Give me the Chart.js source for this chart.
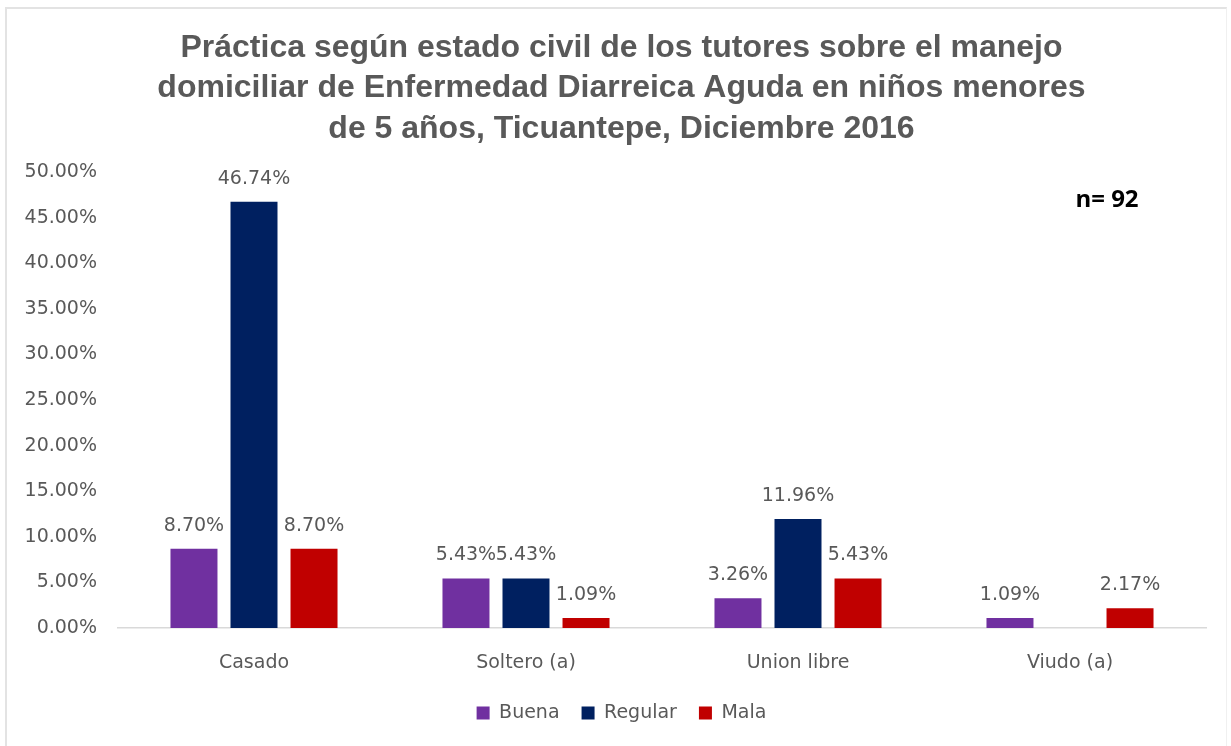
<!DOCTYPE html>
<html>
<head>
<meta charset="utf-8">
<script src="https://cdn.jsdelivr.net/npm/chart.js@4/dist/chart.umd.min.js"></script>
<style>
  html, body { margin: 0; padding: 0; background: #ffffff; }
  #wrap { position: relative; width: 1231px; height: 746px; overflow: hidden; }
  #frame { position: absolute; left: 5px; top: 7px; width: 1219px; height: 745px;
           border-top: 2px solid #e3e3e3; border-left: 2px solid #e3e3e3; border-right: 1px solid #f0f0f0; }
  canvas { position: absolute; left: 0; top: 0; }
</style>
</head>
<body>
<div id="wrap">
  <div id="frame"></div>
  <canvas id="c" width="1231" height="746"></canvas>
</div>
<script>
const titleLines = [
  "Práctica según estado civil de los tutores sobre el manejo",
  "domiciliar de Enfermedad Diarreica Aguda en niños menores",
  "de 5 años, Ticuantepe, Diciembre 2016"
];
const categories = ["Casado", "Soltero (a)", "Union libre", "Viudo (a)"];
const seriesNames = ["Buena", "Regular", "Mala"];
const buena = [8.70, 5.43, 3.26, 1.09];
const regular = [46.74, 5.43, 11.96, 0];
const mala = [8.70, 1.09, 5.43, 2.17];
const seriesColors = ["#7030A0", "#002060", "#C00000"];
const noteText = "n= 92";
const yMin = 0, yMax = 50, yStep = 5;

const labelFont = { family: "'DejaVu Sans', sans-serif", size: 19 };
const gray = "#595959";

const valueLabels = {
  id: "valueLabels",
  afterDatasetsDraw(chart) {
    const ctx = chart.ctx;
    ctx.save();
    ctx.font = labelFont.size + "px " + labelFont.family;
    ctx.fillStyle = gray;
    ctx.textAlign = "center";
    ctx.textBaseline = "middle";
    chart.data.datasets.forEach((ds, di) => {
      const meta = chart.getDatasetMeta(di);
      meta.data.forEach((bar, i) => {
        const v = ds.data[i];
        if (v > 0) ctx.fillText(v.toFixed(2) + "%", bar.x, bar.y - 23);
      });
    });
    ctx.font = "bold 24px 'Open Sans', sans-serif";
    ctx.fillStyle = "#000000";
    ctx.fillText(noteText, 1107, 200);
    ctx.restore();
  }
};

new Chart(document.getElementById("c"), {
  type: "bar",
  data: {
    labels: categories,
    datasets: [
      { label: seriesNames[0], data: buena, backgroundColor: seriesColors[0] },
      { label: seriesNames[1], data: regular, backgroundColor: seriesColors[1] },
      { label: seriesNames[2], data: mala, backgroundColor: seriesColors[2] }
    ]
  },
  options: {
    responsive: false,
    animation: false,
    devicePixelRatio: 1,
    layout: { padding: { left: 20, right: 8, top: 0, bottom: 13.5 } },
    datasets: { bar: { categoryPercentage: 0.662, barPercentage: 0.783 } },
    plugins: {
      title: {
        display: true,
        text: titleLines,
        color: gray,
        font: { family: "'Liberation Sans', Arial, sans-serif", size: 32, weight: "bold", lineHeight: 1.26 },
        padding: { top: 28, bottom: 23 }
      },
      legend: {
        position: "bottom",
        labels: {
          boxWidth: 13, boxHeight: 13, padding: 22,
          color: gray, font: labelFont
        }
      },
      tooltip: { enabled: false }
    },
    scales: {
      x: {
        grid: { display: false },
        border: { display: true, color: "#d9d9d9", width: 1.5 },
        ticks: { color: gray, font: labelFont, padding: 16 },
        afterFit(scale) { scale.height = 53.5; }
      },
      y: {
        min: yMin, max: yMax,
        grid: { display: false, drawTicks: false },
        border: { display: false },
        ticks: {
          stepSize: yStep, color: gray, font: labelFont, padding: 21,
          callback: (v) => v.toFixed(2) + "%"
        },
        afterFit(scale) { scale.width = 98; }
      },
      yRight: {
        position: "right",
        display: true,
        grid: { display: false, drawTicks: false },
        border: { display: false },
        ticks: { display: false },
        afterFit(scale) { scale.width = 17; }
      }
    }
  },
  plugins: [valueLabels]
});
</script>
</body>
</html>
